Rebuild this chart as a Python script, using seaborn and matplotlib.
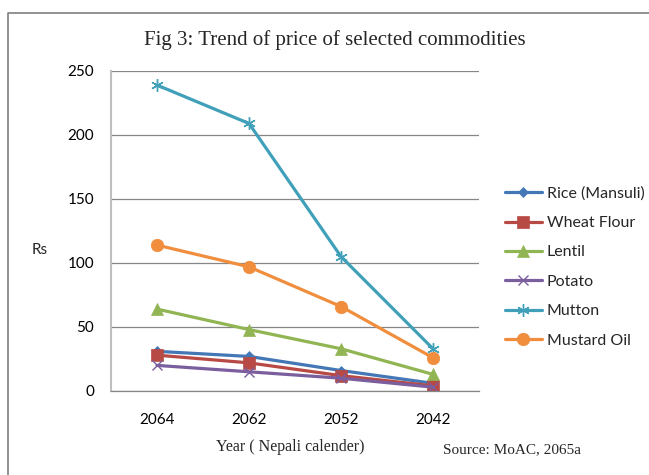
import matplotlib
matplotlib.use("Agg")
import matplotlib.pyplot as plt
import seaborn as sns
import pandas as pd
from matplotlib.lines import Line2D

years = ["2064", "2062", "2052", "2042"]
rice = [31, 27, 16, 6]
wheat = [28, 22, 12, 4]
lentil = [64, 48, 33, 13]
potato = [20, 15, 10, 3]
mutton = [239, 209, 105, 33]
mustard = [114, 97, 66, 26]

names = ["Rice (Mansuli)", "Wheat Flour", "Lentil", "Potato", "Mutton", "Mustard Oil"]
series = [rice, wheat, lentil, potato, mutton, mustard]
colors = ["#4477B5", "#B84A46", "#91B553", "#7A5E9E", "#40A0BA", "#F08E3E"]
marker_list = ["D", "s", "^", "x", (6, 2, 0), "o"]
msizes = [5, 8, 8, 7, 9, 9]

rows = []
for n, vals in zip(names, series):
    for y, v in zip(years, vals):
        rows.append({"year": y, "price": v, "commodity": n})
df = pd.DataFrame(rows)

sns.set_theme(style="white")
plt.rcParams["font.family"] = ["Lato", "DejaVu Sans"]

fig = plt.figure(figsize=(6.49, 4.75), dpi=100)
ax = fig.add_axes([111 / 649, 1 - 391 / 475, (479 - 111) / 649, (391 - 71) / 475])

for n, c, m, ms in zip(names, colors, marker_list, msizes):
    sub = df[df["commodity"] == n]
    sns.lineplot(data=sub, x="year", y="price", ax=ax, color=c, marker=m,
                 markersize=ms, linewidth=2.3, markeredgecolor=c,
                 markeredgewidth=1.0 if m in ("x", (6, 2, 0)) else 0.5,
                 sort=False, label=n, legend=False)

ax.set_xlim(-0.5, 3.5)
ax.set_ylim(0, 250)
ax.set_yticks([0, 50, 100, 150, 200, 250])
ax.yaxis.grid(True, color="#868686", linewidth=0.9)
ax.xaxis.grid(False)
for s in ["top", "right"]:
    ax.spines[s].set_visible(False)
ax.spines["left"].set_color("#BFBFBF")
ax.spines["left"].set_linewidth(1.5)
ax.spines["bottom"].set_color("#868686")
ax.spines["bottom"].set_linewidth(0.9)
ax.tick_params(axis="both", length=0, labelsize=11, colors="black")
ax.tick_params(axis="x", pad=16)
ax.tick_params(axis="y", pad=12)
ax.set_xlabel("")
ax.set_ylabel("")

fig.text(40 / 649, 1 - 250 / 475, "Rs", fontsize=11, ha="center", va="center")
fig.text(335 / 649, 1 - 40 / 475, "Fig 3: Trend of price of selected commodities",
         fontsize=15, family="Liberation Serif", ha="center", va="center")
fig.text(290 / 649, 1 - 447 / 475, "Year ( Nepali calender)", fontsize=11.5,
         family="Liberation Serif", ha="center", va="center")
fig.text(443 / 649, 1 - 450 / 475, "Source: MoAC, 2065a", fontsize=11,
         family="Liberation Serif", ha="left", va="center")

handles, labels = ax.get_legend_handles_labels()
fig.legend(handles, labels, loc="center left", bbox_to_anchor=(505 / 649, 1 - 267 / 475),
           frameon=False, fontsize=11.5, labelspacing=0.95, handlelength=2.3,
           handletextpad=0.3, borderpad=0, borderaxespad=0)

fig.add_artist(Line2D([8 / 649, 8 / 649, 1.0], [0.0, 1 - 13 / 475, 1 - 13 / 475],
                      transform=fig.transFigure, color="#7F7F7F", linewidth=1.2))

fig.savefig("out.png", dpi=100)
